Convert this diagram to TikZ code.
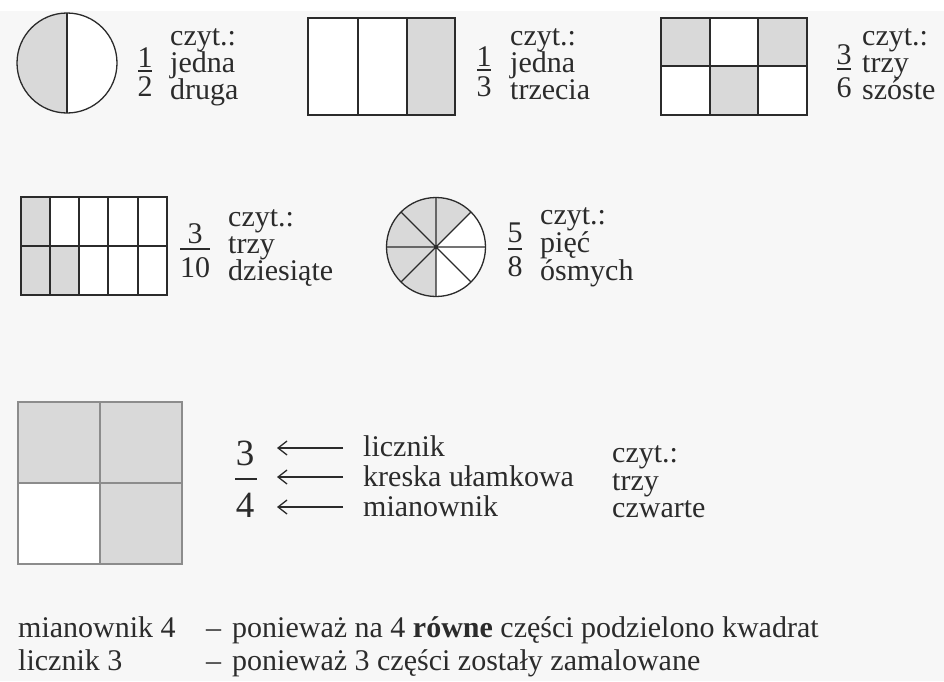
\documentclass[tikz,border=0pt]{standalone}
\usepackage{fontspec}
\setmainfont{Liberation Serif}
\usetikzlibrary{arrows.meta}
\definecolor{bg}{HTML}{F7F7F7}
\definecolor{cellgray}{HTML}{D9D9D9}
\definecolor{ink}{HTML}{2B2B2B}
\definecolor{soft}{HTML}{8C8C8C}
\begin{document}
\begin{tikzpicture}[x=1pt,y=-1pt,
  txt/.style={anchor=base west, inner sep=0pt, text=ink, text height=20pt, text depth=5pt, font=\fontsize{30}{30}\selectfont},
  dig/.style={anchor=base, inner sep=0pt, text=ink, font=\fontsize{30}{30}\selectfont},
  bigdig/.style={anchor=base, inner sep=0pt, text=ink, font=\fontsize{37}{37}\selectfont},
  fbar/.style={draw=ink, line width=1.2pt},
  outl/.style={draw=ink, line width=1.3pt},
  softoutl/.style={draw=soft, line width=1.2pt},
  arr/.style={draw=ink, line width=1.3pt, -{Straight Barb[length=9pt,width=14pt,line width=1.3pt]}}]
\useasboundingbox (0,0) rectangle (944,681);
\fill[bg] (0,0) rectangle (944,681);
\fill[white] (0,0) rectangle (944,11);

% ---------- 1/2 circle
\fill[white] (67,63) circle[radius=50];
\fill[cellgray] (67,63) -- (67,13) arc[start angle=270, end angle=90, radius=50] -- cycle;
\draw[outl] (67,63) circle[radius=50];
\draw[outl] (67,13) -- (67,113);
\node[dig] (n1) at (145,67) {1};
\draw[fbar] (138,71) -- (152,71);
\node[dig] (d1) at (145,96) {2};
\node[txt] (a1) at (170,45) {czyt.:};
\node[txt] (b1) at (170,72) {jedna};
\node[txt] (c1) at (170,99) {druga};

% ---------- 1/3 rectangle
\fill[white] (308,18) rectangle (455,115);
\fill[cellgray] (407,18) rectangle (455,115);
\draw[outl] (308,18) rectangle (455,115);
\draw[outl] (358,18) -- (358,115) (407,18) -- (407,115);
\node[dig] (n2) at (484,66) {1};
\draw[fbar] (477,70) -- (491,70);
\node[dig] (d2) at (484,96) {3};
\node[txt] (a2) at (510,45) {czyt.:};
\node[txt] (b2) at (510,72) {jedna};
\node[txt] (c2) at (510,99) {trzecia};

% ---------- 3/6 rectangle
\fill[white] (661,18) rectangle (807,115);
\fill[cellgray] (661,18) rectangle (710,66) (758,18) rectangle (807,66) (710,66) rectangle (758,115);
\draw[outl] (661,18) rectangle (807,115);
\draw[outl] (710,18) -- (710,115) (758,18) -- (758,115) (661,66) -- (807,66);
\node[dig] (n3) at (844,64) {3};
\draw[fbar] (837,69) -- (851,69);
\node[dig] (d3) at (844,97) {6};
\node[txt] (a3) at (862,45) {czyt.:};
\node[txt] (b3) at (862,72) {trzy};
\node[txt] (c3) at (862,99) {szóste};

% ---------- 3/10 rectangle
\fill[white] (21,197) rectangle (167,295);
\fill[cellgray] (21,197) rectangle (50,246) (21,246) rectangle (79,295);
\draw[outl] (21,197) rectangle (167,295);
\draw[outl] (50,197) -- (50,295) (79,197) -- (79,295) (108,197) -- (108,295) (138,197) -- (138,295) (21,246) -- (167,246);
\node[dig] (n4) at (195,243) {3};
\draw[fbar] (180,249) -- (210,249);
\node[dig] (d4) at (195,277) {10};
\node[txt] (a4) at (228,226) {czyt.:};
\node[txt] (b4) at (228,253) {trzy};
\node[txt] (c4) at (228,280) {dziesiąte};

% ---------- 5/8 circle
\fill[white] (436,247) circle[radius=49.5];
\fill[cellgray] (436,247) -- (436,296.5) arc[start angle=90, end angle=315, radius=49.5] -- cycle;
\draw[outl] (436,247) circle[radius=49.5];
\draw[outl] (436,197.5) -- (436,296.5) (386.5,247) -- (485.5,247)
  (401,212) -- (471,282) (401,282) -- (471,212);
\node[dig] (n5) at (515,242) {5};
\draw[fbar] (508,249) -- (522,249);
\node[dig] (d5) at (515,276) {8};
\node[txt] (a5) at (540,224) {czyt.:};
\node[txt] (b5) at (540,252) {pięć};
\node[txt] (c5) at (540,280) {ósmych};

% ---------- 3/4 square
\fill[white] (18,402) rectangle (182,564);
\fill[cellgray] (18,402) rectangle (182,483) (100,483) rectangle (182,564);
\draw[softoutl] (18,402) rectangle (182,564);
\draw[softoutl] (100,402) -- (100,564) (18,483) -- (182,483);
\node[bigdig] (n6) at (245,465) {3};
\draw[fbar] (235,479) -- (257,479);
\node[bigdig] (d6) at (245,517) {4};
\node[txt] (l1) at (363,456) {licznik};
\node[txt] (l2) at (363,486) {kreska ułamkowa};
\node[txt] (l3) at (363,516) {mianownik};
\coordinate (t1) at (343,448); \coordinate (h1) at (277,448);
\coordinate (t2) at (343,477); \coordinate (h2) at (277,477);
\coordinate (t3) at (343,507); \coordinate (h3) at (277,507);
\draw[arr] (t1) -- (h1);
\draw[arr] (t2) -- (h2);
\draw[arr] (t3) -- (h3);
\node[txt] (a6) at (612,462) {czyt.:};
\node[txt] (b6) at (612,490) {trzy};
\node[txt] (c6) at (612,517) {czwarte};

% ---------- bottom explanation
\node[txt] (m1) at (18,637) {mianownik 4};
\node[txt] (m2) at (206,637) {–};
\node[txt] (m3) at (232,637) {ponieważ na 4 \textbf{równe} części podzielono kwadrat};
\node[txt] (k1) at (18,670) {licznik 3};
\node[txt] (k2) at (206,670) {–};
\node[txt] (k3) at (232,670) {ponieważ 3 części zostały zamalowane};
\end{tikzpicture}
\end{document}
